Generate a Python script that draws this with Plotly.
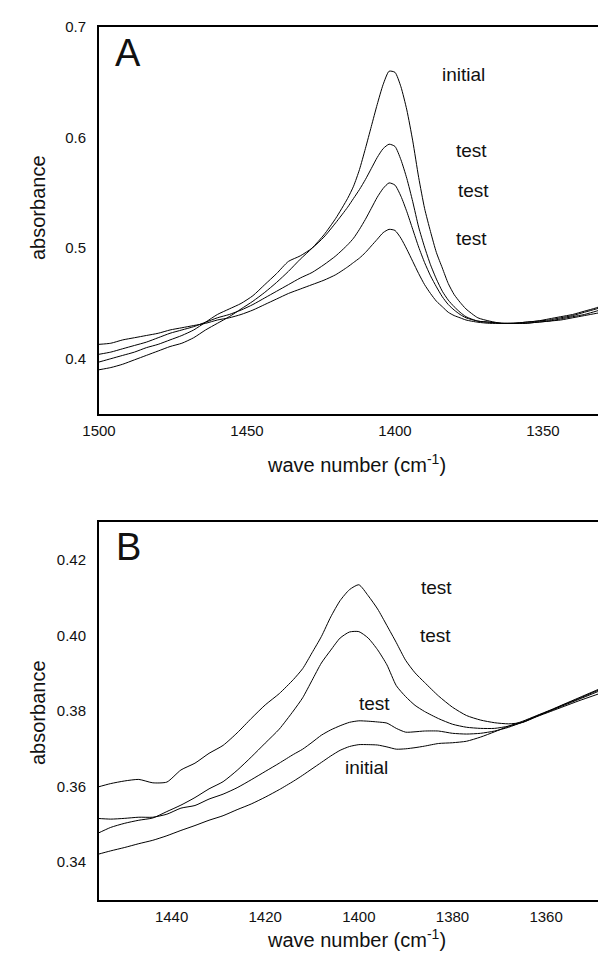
import plotly.graph_objects as go

# ---------------- Panel A data ----------------
wn_A = [1500, 1496, 1492, 1488, 1484, 1480, 1476, 1472, 1468, 1464, 1460, 1456, 1452, 1448, 1444,
        1440, 1436, 1432, 1428, 1424, 1420, 1416,
        1414, 1412, 1410, 1408, 1406, 1404, 1402, 1400, 1398, 1396, 1394, 1392, 1390, 1388, 1386,
        1384, 1382, 1380, 1378, 1376,
        1372, 1368, 1364, 1360, 1356, 1352, 1348, 1344, 1340, 1336, 1332, 1328, 1324]

A_initial = [0.390, 0.392, 0.395, 0.399, 0.403, 0.407, 0.411, 0.414, 0.419, 0.426, 0.432, 0.438, 0.445, 0.452, 0.460,
             0.469, 0.479, 0.490, 0.500, 0.512, 0.527, 0.545,
             0.556, 0.571, 0.590, 0.610, 0.630, 0.648, 0.660, 0.659, 0.646, 0.625, 0.597, 0.564, 0.536, 0.515, 0.496,
             0.482, 0.468, 0.458, 0.451, 0.445,
             0.437, 0.434, 0.432, 0.432, 0.433, 0.434, 0.436, 0.438, 0.440, 0.443, 0.446, 0.450, 0.453]

A_test1 = [0.397, 0.400, 0.403, 0.406, 0.410, 0.413, 0.417, 0.421, 0.426, 0.433, 0.440, 0.445, 0.450, 0.457, 0.467,
           0.477, 0.488, 0.493, 0.500, 0.510, 0.523, 0.537,
           0.545, 0.553, 0.562, 0.572, 0.582, 0.590, 0.594, 0.592, 0.580, 0.563, 0.542, 0.519, 0.501, 0.485, 0.472,
           0.461, 0.453, 0.447, 0.442, 0.438,
           0.434, 0.433, 0.432, 0.432, 0.433, 0.434, 0.435, 0.437, 0.439, 0.442, 0.445, 0.448, 0.451]

A_test2 = [0.404, 0.406, 0.409, 0.412, 0.415, 0.419, 0.423, 0.426, 0.429, 0.433, 0.437, 0.440, 0.444, 0.449, 0.455,
           0.461, 0.467, 0.473, 0.478, 0.485, 0.493, 0.503,
           0.509, 0.517, 0.526, 0.536, 0.546, 0.554, 0.559, 0.557, 0.547, 0.533, 0.517, 0.501, 0.487, 0.475, 0.465,
           0.456, 0.449, 0.444, 0.440, 0.437,
           0.434, 0.433, 0.432, 0.432, 0.432, 0.433, 0.434, 0.436, 0.438, 0.440, 0.443, 0.446, 0.449]

A_test3 = [0.413, 0.414, 0.417, 0.419, 0.421, 0.423, 0.426, 0.428, 0.430, 0.432, 0.435, 0.437, 0.440, 0.444, 0.449,
           0.454, 0.459, 0.463, 0.467, 0.471, 0.476, 0.483,
           0.487, 0.491, 0.496, 0.502, 0.508, 0.514, 0.517, 0.516, 0.509, 0.499, 0.488, 0.477, 0.467, 0.459, 0.452,
           0.447, 0.442, 0.439, 0.437, 0.435,
           0.433, 0.432, 0.432, 0.432, 0.432, 0.433, 0.434, 0.435, 0.437, 0.439, 0.441, 0.443, 0.445]

# ---------------- Panel B data ----------------
wn_B = [1456, 1453, 1450, 1447, 1444, 1441, 1438, 1435, 1432, 1429, 1426, 1423, 1420, 1417, 1414,
        1412, 1410, 1408, 1406, 1404, 1402, 1400, 1398, 1396, 1394, 1392, 1390, 1388, 1386,
        1383, 1380, 1377, 1374, 1371, 1368, 1365, 1362, 1359, 1356, 1353, 1350, 1347, 1344]

B_test1 = [0.3598, 0.3608, 0.3615, 0.3619, 0.3610, 0.3612, 0.3644, 0.3662, 0.3688, 0.3709, 0.3742, 0.3780, 0.3816, 0.3846, 0.3883,
           0.3912, 0.3954, 0.3997, 0.4049, 0.4092, 0.4121, 0.4134, 0.4105, 0.4070, 0.4026, 0.3981, 0.3934, 0.3901, 0.3876,
           0.3840, 0.3810, 0.3788, 0.3776, 0.3769, 0.3766, 0.3770, 0.3785, 0.3799, 0.3813, 0.3827, 0.3840, 0.3853, 0.3866]

B_test2 = [0.3475, 0.3492, 0.3503, 0.3511, 0.3517, 0.3534, 0.3551, 0.3571, 0.3594, 0.3613, 0.3643, 0.3678, 0.3715, 0.3752, 0.3800,
           0.3835, 0.3881, 0.3927, 0.3961, 0.3993, 0.4009, 0.4010, 0.3993, 0.3962, 0.3922, 0.3867, 0.3838, 0.3815, 0.3799,
           0.3780, 0.3765, 0.3757, 0.3754, 0.3754, 0.3760, 0.3770, 0.3786, 0.3801, 0.3816, 0.3831, 0.3846, 0.3861, 0.3875]

B_test3 = [0.3516, 0.3514, 0.3516, 0.3519, 0.3519, 0.3527, 0.3543, 0.3550, 0.3567, 0.3580, 0.3597, 0.3618, 0.3640, 0.3662, 0.3685,
           0.3699, 0.3717, 0.3736, 0.3750, 0.3761, 0.3770, 0.3774, 0.3773, 0.3771, 0.3768, 0.3754, 0.3744, 0.3745, 0.3747,
           0.3747, 0.3741, 0.3739, 0.3741, 0.3747, 0.3757, 0.3771, 0.3787, 0.3802, 0.3818, 0.3833, 0.3849, 0.3864, 0.3879]

B_initial = [0.3420, 0.3430, 0.3439, 0.3449, 0.3458, 0.3470, 0.3484, 0.3497, 0.3511, 0.3523, 0.3539, 0.3554, 0.3572, 0.3592, 0.3614,
             0.3630, 0.3647, 0.3664, 0.3681, 0.3696, 0.3706, 0.3711, 0.3711, 0.3710, 0.3705, 0.3699, 0.3700, 0.3703, 0.3707,
             0.3714, 0.3716, 0.3720, 0.3731, 0.3745, 0.3760, 0.3773, 0.3788, 0.3803, 0.3819, 0.3835, 0.3851, 0.3867, 0.3883]

A_ticks_x = [1500, 1450, 1400, 1350]
A_ticks_y = [0.4, 0.5, 0.6, 0.7]
B_ticks_x = [1440, 1420, 1400, 1380, 1360]
B_ticks_y = [0.34, 0.36, 0.38, 0.40, 0.42]

W, H = 606, 953
FONT = "Liberation Sans, Arial, sans-serif"
INK = "#111111"


def px(x):
    return x / W


def py(y):
    return 1 - y / H


fig = go.Figure()
for ys in (A_initial, A_test1, A_test2, A_test3):
    fig.add_trace(go.Scatter(x=wn_A, y=ys, mode="lines", xaxis="x", yaxis="y",
                             line=dict(color="black", width=1, shape="spline", smoothing=0.6),
                             showlegend=False, hoverinfo="skip"))
for ys in (B_test1, B_test2, B_test3, B_initial):
    fig.add_trace(go.Scatter(x=wn_B, y=ys, mode="lines", xaxis="x2", yaxis="y2",
                             line=dict(color="black", width=1, shape="spline", smoothing=0.6),
                             showlegend=False, hoverinfo="skip"))

axis_common = dict(showgrid=False, zeroline=False, showline=True, linecolor="black", linewidth=2,
                   ticks="", automargin=False, tickfont=dict(family=FONT, size=15, color=INK))

fig.update_layout(
    template="none",
    width=W, height=H,
    margin=dict(l=0, r=0, t=0, b=0, pad=0),
    paper_bgcolor="white", plot_bgcolor="white",
    font=dict(family=FONT, color=INK),
    xaxis=dict(domain=[px(91), 1.0], anchor="y", range=[1500, 1326], tickvals=A_ticks_x,
               mirror=True, ticklabelstandoff=2, **axis_common),
    yaxis=dict(domain=[py(406), py(19)], anchor="x", range=[0.35, 0.7], tickvals=A_ticks_y,
               tickformat=".1f", ticklabelstandoff=8, **axis_common),
    xaxis2=dict(domain=[px(91), 1.0], anchor="y2", range=[1455.5, 1345.5], tickvals=B_ticks_x,
                mirror=True, ticklabelstandoff=2, **axis_common),
    yaxis2=dict(domain=[py(892), py(514)], anchor="x2", range=[0.33, 0.43], tickvals=B_ticks_y,
                tickformat=".2f", ticklabelstandoff=8, **axis_common),
)


def note(text, x, y, size=19, angle=0):
    fig.add_annotation(text=text, x=px(x), y=py(y), xref="paper", yref="paper",
                       showarrow=False, xanchor="center", yanchor="middle", textangle=angle,
                       font=dict(family=FONT, size=size, color=INK))


# panel letters
note("A", 120, 45, size=38)
note("B", 120, 539, size=38)
# curve labels panel A
note("initial", 455, 67)
note("test", 463, 142)
note("test", 465, 182)
note("test", 463, 230)
# curve labels panel B
note("test", 428, 579)
note("test", 427, 627)
note("test", 367, 695)
note("initial", 358, 759)
# axis titles
note("wave number (cm<sup>-1</sup>)", 348, 455, size=20)
note("wave number (cm<sup>-1</sup>)", 348, 930, size=20)
note("absorbance", 30, 200, size=20, angle=-90)
note("absorbance", 30, 705, size=20, angle=-90)

fig.write_html("out.html")
